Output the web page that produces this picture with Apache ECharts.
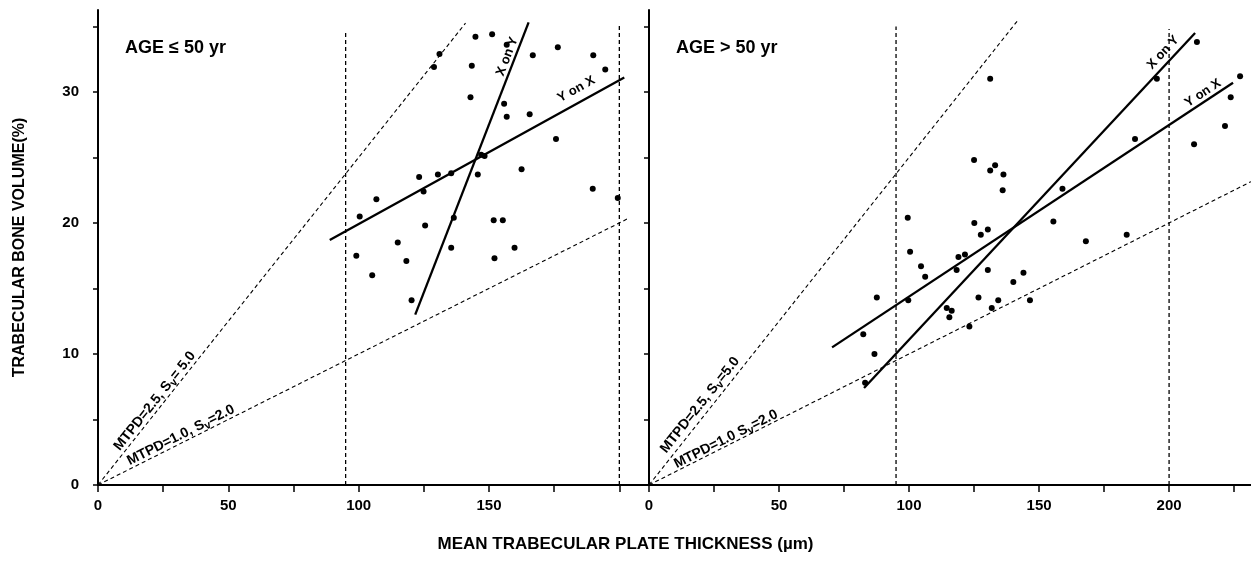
<!DOCTYPE html>
<html>
<head>
<meta charset="utf-8">
<script src="https://cdn.jsdelivr.net/npm/echarts@6/dist/echarts.min.js"></script>
<style>
  html, body { margin: 0; padding: 0; background: #fff; }
  #chart { width: 1251px; height: 574px; }
</style>
</head>
<body>
<div id="chart"></div>
<script>
// points: [plate thickness (um), bone volume (%)]
const youngPoints = [
  [99.1, 17.5], [100.4, 20.5], [105.2, 16.0], [106.8, 21.8], [115, 18.5], [118.3, 17.1],
  [120.3, 14.1], [123.2, 23.5], [124.9, 22.4], [125.5, 19.8], [128.9, 31.9], [130.4, 23.7],
  [131, 32.9], [135.5, 23.8], [135.5, 18.1], [136.5, 20.4], [142.9, 29.6], [143.4, 32.0],
  [144.8, 34.2], [145.7, 23.7], [147, 25.2], [148.3, 25.1], [151.2, 34.4], [151.8, 20.2],
  [152.1, 17.3], [155.3, 20.2], [155.8, 29.1], [156.8, 28.1], [156.8, 33.6], [159.8, 18.1],
  [162.5, 24.1], [165.6, 28.3], [166.8, 32.8], [175.7, 26.4], [176.4, 33.4], [189.8, 22.6],
  [190, 32.8], [194.6, 31.7], [199.4, 21.9]
];
const oldPoints = [
  [82.4, 11.5], [83.1, 7.8], [86.7, 10.0], [87.6, 14.3], [99.5, 20.4], [99.7, 14.1],
  [100.4, 17.8], [104.6, 16.7], [106.2, 15.9], [114.5, 13.5], [115.5, 12.8], [116.4, 13.3],
  [118.3, 16.4], [119, 17.4], [121.5, 17.6], [123.2, 12.1], [125, 24.8], [125.1, 20.0],
  [126.7, 14.3], [127.6, 19.1], [130.3, 19.5], [130.3, 16.4], [131.2, 31.0], [131.2, 24.0],
  [131.8, 13.5], [133.1, 24.4], [134.3, 14.1], [136, 22.5], [136.3, 23.7], [140.1, 15.5],
  [144, 16.2], [146.5, 14.1], [155.5, 20.1], [159, 22.6], [168, 18.6], [183.7, 19.1],
  [186.9, 26.4], [195.3, 31.0], [209.6, 26.0], [210.7, 33.8], [221.5, 27.4], [223.7, 29.6],
  [227.3, 31.2]
];

// regression lines (end points)
const youngYonX = [[88.9, 18.7], [201.9, 31.1]];
const youngXonY = [[121.7, 13.0], [165.2, 35.3]];
const oldYonX = [[70.4, 10.5], [224.6, 30.7]];
const oldXonY = [[82.7, 7.4], [210, 34.5]];

// reference lines through the origin
const youngMtpd25 = [[0, 0], [141, 35.25]];
const youngMtpd10 = [[0, 0], [203, 20.3]];
const oldMtpd25 = [[0, 0], [142, 35.5]];
const oldMtpd10 = [[0, 0], [231.5, 23.15]];

// vertical limit lines
const youngLimitA = [[95, 0], [95, 34.5]];
const youngLimitB = [[200, 0], [200, 35.2]];
const oldLimitA = [[95, 0], [95, 35.0]];
const oldLimitB = [[200, 0], [200, 34.8]];

// ticks and labels
const yTicks = [0, 5, 10, 15, 20, 25, 30, 35];
const yLabels = [0, 10, 20, 30];
const xTicksYoung = [0, 25, 50, 75, 100, 125, 150, 175, 200];
const xLabelsYoung = [0, 50, 100, 150];
const xTicksOld = [0, 25, 50, 75, 100, 125, 150, 175, 200, 225];
const xLabelsOld = [0, 50, 100, 150, 200];

const FONT = "'Liberation Sans', Arial, sans-serif";
const ink = '#000';

function xAxis(idx, max, ticks, labels) {
  return {
    type: 'value', gridIndex: idx, min: 0, max: max,
    axisLine: { show: true, lineStyle: { color: ink, width: 2 } },
    axisTick: { show: true, customValues: ticks, length: 7, lineStyle: { color: ink, width: 1.5 } },
    axisLabel: { customValues: labels, color: ink, fontSize: 15, fontWeight: 'bold', fontFamily: FONT, margin: 13 },
    splitLine: { show: false }
  };
}
function yAxis(idx, showLabels) {
  return {
    type: 'value', gridIndex: idx, min: 0, max: 36.25,
    axisLine: { show: true, lineStyle: { color: ink, width: 2 } },
    axisTick: { show: true, customValues: yTicks, length: 5, lineStyle: { color: ink, width: 1.5 } },
    axisLabel: { show: showLabels, customValues: yLabels, color: ink, fontSize: 15, fontWeight: 'bold', fontFamily: FONT, margin: 19 },
    splitLine: { show: false },
    name: showLabels ? 'TRABECULAR BONE VOLUME(%)' : '',
    nameLocation: 'middle', nameGap: 70, nameRotate: 90,
    nameTextStyle: { color: ink, fontSize: 16, fontWeight: 'bold', fontFamily: FONT }
  };
}

function seg(idx, data, dashed, width) {
  return {
    type: 'line', xAxisIndex: idx, yAxisIndex: idx, data: data,
    symbol: 'none', silent: true, animation: false,
    lineStyle: { color: ink, width: width, type: dashed ? [4, 3] : 'solid' }
  };
}
function dots(idx, data) {
  return {
    type: 'scatter', xAxisIndex: idx, yAxisIndex: idx, data: data,
    symbolSize: 6, itemStyle: { color: ink, opacity: 1 }, animation: false
  };
}
function note(text, rotate, size) {
  return {
    show: true, position: 'inside', formatter: text, rotate: rotate, opacity: 1,
    rich: {
      b: { color: ink, fontSize: size, fontWeight: 'bold', fontFamily: FONT },
      sub: { color: ink, fontSize: size - 3, fontWeight: 'bold', fontFamily: FONT, padding: [7, 0, 0, 0] }
    }
  };
}
function notes(idx, items) {
  return {
    type: 'scatter', xAxisIndex: idx, yAxisIndex: idx, symbolSize: 0, silent: true, animation: false,
    itemStyle: { opacity: 1 },
    data: items.map(function (it) { return { value: it[0], label: note(it[1], it[2], it[3]) }; })
  };
}

const chart = echarts.init(document.getElementById('chart'));
chart.setOption({
  backgroundColor: '#fff',
  animation: false,
  grid: [
    { left: 98, top: 10, width: 550, height: 475 },
    { left: 649, top: 10, width: 602, height: 475 }
  ],
  xAxis: [xAxis(0, 211, xTicksYoung, xLabelsYoung), xAxis(1, 231.5, xTicksOld, xLabelsOld)],
  yAxis: [yAxis(0, true), yAxis(1, false)],
  graphic: [
    { type: 'text', left: 125, top: 39, style: { text: 'AGE \u2264 50 yr', fill: ink, font: 'bold 18px ' + FONT } },
    { type: 'text', left: 676, top: 39, style: { text: 'AGE > 50 yr', fill: ink, font: 'bold 18px ' + FONT } },
    { type: 'text', left: 'center', top: 536, style: { text: 'MEAN TRABECULAR PLATE THICKNESS (\u00b5m)', fill: ink, font: 'bold 17px ' + FONT } }
  ],
  series: [
    seg(0, youngLimitA, true, 1.3), seg(0, youngLimitB, true, 1.3),
    seg(0, youngMtpd25, true, 1.1), seg(0, youngMtpd10, true, 1.1),
    seg(0, youngYonX, false, 2.3), seg(0, youngXonY, false, 2.3),
    dots(0, youngPoints),
    notes(0, [
      [[157, 32.7], '{b|X on Y}', 68.7, 13],
      [[183.5, 30.2], '{b|Y on X}', 28.9, 13],
      [[21.8, 6.4], '{b|MTPD=2.5, S}{sub|v}{b|= 5.0}', 51.5, 14],
      [[31.8, 3.8], '{b|MTPD=1.0, S}{sub|v}{b|=2.0}', 26.7, 14]
    ]),
    seg(1, oldLimitA, true, 1.3), seg(1, oldLimitB, true, 1.3),
    seg(1, oldMtpd25, true, 1.1), seg(1, oldMtpd10, true, 1.1),
    seg(1, oldYonX, false, 2.3), seg(1, oldXonY, false, 2.3),
    dots(1, oldPoints),
    notes(1, [
      [[197.7, 33.0], '{b|X on Y}', 46.9, 13],
      [[213, 29.9], '{b|Y on X}', 33.3, 13],
      [[19.6, 6.1], '{b|MTPD=2.5, S}{sub|v}{b|=5.0}', 51.5, 14],
      [[29.6, 3.5], '{b|MTPD=1.0 S}{sub|v}{b|=2.0}', 26.7, 14]
    ])
  ]
});
</script>
</body>
</html>
